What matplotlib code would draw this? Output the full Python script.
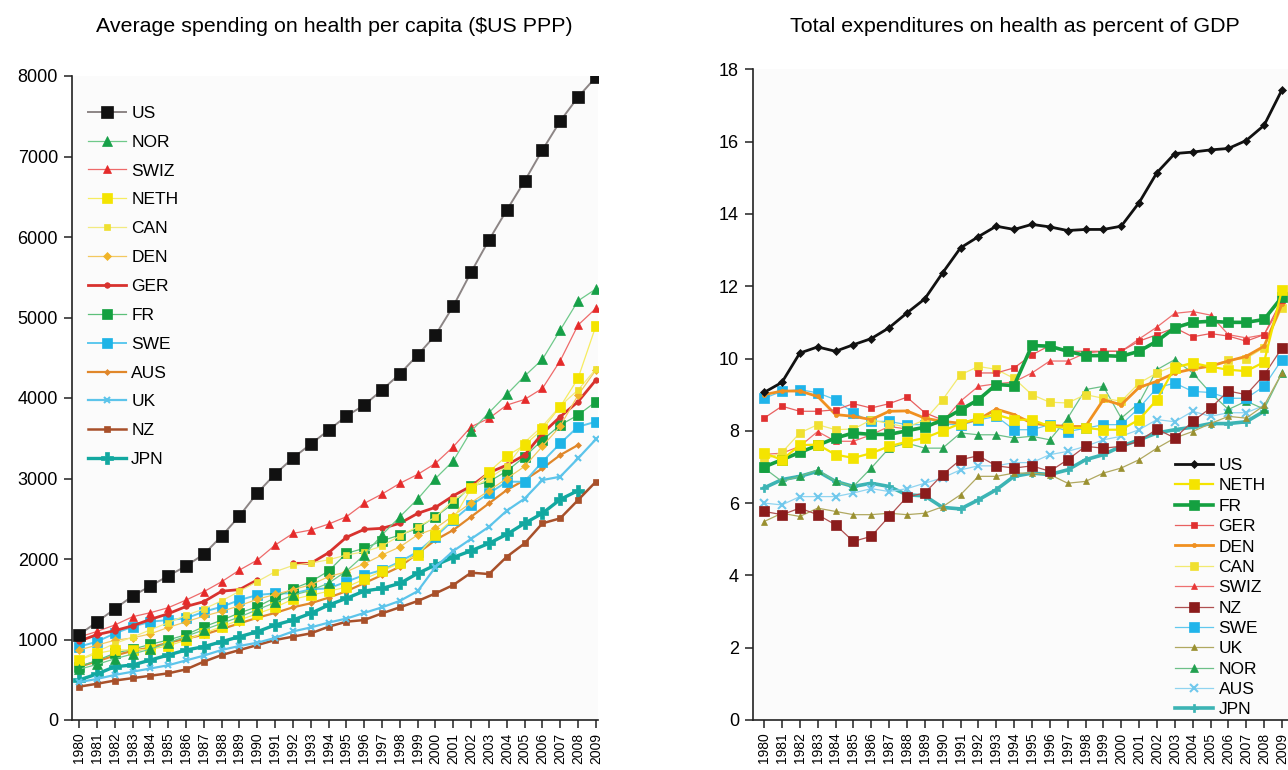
import numpy as np
import matplotlib
matplotlib.use("Agg")
import matplotlib.pyplot as plt

plt.rcParams['font.family'] = ['Liberation Sans', 'DejaVu Sans']

nan = np.nan
years = list(range(1980, 2010))
year_labels = [str(y) for y in years]

# ---- Left chart: spending per capita ($US PPP) ----
us_spend = [1060, 1217, 1380, 1540, 1665, 1790, 1913, 2060, 2285, 2535, 2820, 3055, 3254, 3428, 3600,
            3775, 3912, 4100, 4300, 4533, 4782, 5142, 5564, 5962, 6334, 6694, 7080, 7440, 7738, 7986]
nor_spend = [630, 690, 760, 820, 880, 960, 1040, 1120, 1200, 1280, 1370, 1460, 1550, 1610, 1700,
             1850, 2050, 2300, 2525, 2745, 3000, 3220, 3589, 3817, 4045, 4272, 4480, 4844, 5207, 5354]
swiz_spend = [1030, 1100, 1180, 1283, 1333, 1395, 1490, 1594, 1718, 1863, 1987, 2173, 2318, 2360, 2434,
              2525, 2691, 2807, 2940, 3051, 3188, 3395, 3643, 3747, 3912, 3982, 4119, 4463, 4906, 5113]
neth_spend = [745, 828, 870, 870, 880, 920, 994, 1080, 1159, 1242, 1320, 1400, 1500, 1550, 1600,
              1650, 1750, 1850, 1950, 2050, 2300, 2500, 2877, 3084, 3279, 3416, 3610, 3892, 4244, 4894]
can_spend = [750, 850, 950, 1030, 1120, 1210, 1300, 1380, 1480, 1600, 1720, 1842, 1920, 1950, 1990,
             2050, 2090, 2160, 2290, 2400, 2520, 2730, 2880, 3000, 3150, 3450, 3650, 3900, 4100, 4360]
den_spend = [870, 930, 990, 1020, 1070, 1150, 1220, 1290, 1350, 1420, 1500, 1560, 1620, 1680, 1780,
             1842, 1940, 2050, 2150, 2300, 2380, 2540, 2700, 2850, 3000, 3150, 3400, 3650, 4036, 4347]
ger_spend = [980, 1060, 1110, 1170, 1250, 1320, 1410, 1470, 1600, 1620, 1740, nan, 1946, 1946, 2078,
             2270, 2368, 2381, 2443, 2567, 2642, 2786, 2906, 3071, 3167, 3291, 3560, 3767, 3954, 4223]
fr_spend = [662, 740, 830, 880, 940, 994, 1060, 1159, 1240, 1330, 1407, 1520, 1630, 1718, 1850,
            2070, 2133, 2227, 2298, 2381, 2525, 2691, 2906, 2960, 3093, 3270, 3478, 3664, 3788, 3954]
swe_spend = [911, 973, 1076, 1159, 1221, 1242, 1263, 1345, 1407, 1490, 1553, 1573, 1573, 1623, 1635,
             1718, 1801, 1863, 1966, 2090, 2277, 2484, 2670, 2815, 2960, 2960, 3208, 3436, 3643, 3705]
aus_spend = [660, 730, 800, 860, 900, 960, 1010, 1060, 1130, 1200, 1270, 1330, 1400, 1450, 1520,
             1600, 1700, 1800, 1904, 2070, 2236, 2360, 2525, 2691, 2857, 2981, 3126, 3291, 3416, nan]
uk_spend = [470, 510, 560, 600, 640, 680, 740, 800, 870, 920, 960, 1020, 1100, 1150, 1210,
            1260, 1330, 1400, 1480, 1600, 1900, 2100, 2250, 2400, 2600, 2750, 2981, 3022, 3250, 3487]
nz_spend = [414, 450, 490, 520, 550, 580, 629, 725, 807, 869, 931, 994, 1035, 1076, 1159,
            1221, 1242, 1325, 1400, 1478, 1573, 1677, 1830, 1813, 2028, 2194, 2443, 2505, 2732, 2960]
jpn_spend = [497, 571, 662, 683, 745, 807, 869, 911, 973, 1035, 1097, 1180, 1242, 1325, 1428,
             1511, 1602, 1635, 1697, 1821, 1925, 2020, 2103, 2194, 2306, 2443, 2567, 2740, 2850, nan]

# ---- Right chart: total expenditure on health, % of GDP ----
us_gdp = [9.06, 9.34, 10.15, 10.32, 10.2, 10.38, 10.55, 10.85, 11.26, 11.65, 12.37, 13.06, 13.37, 13.66, 13.57,
          13.71, 13.64, 13.54, 13.57, 13.57, 13.66, 14.31, 15.14, 15.67, 15.71, 15.77, 15.81, 16.03, 16.45, 17.43]
neth_gdp = [7.38, 7.2, 7.6, 7.62, 7.34, 7.25, 7.38, 7.57, 7.7, 7.8, 8.0, 8.2, 8.35, 8.45, 8.3,
            8.31, 8.12, 8.08, 8.08, 8.03, 8.03, 8.31, 8.86, 9.75, 9.88, 9.77, 9.69, 9.65, 9.9, 11.9]
fr_gdp = [7.0, 7.2, 7.4, 7.6, 7.8, 7.94, 7.9, 7.9, 8.0, 8.1, 8.3, 8.58, 8.86, 9.28, 9.25,
          10.36, 10.34, 10.2, 10.08, 10.08, 10.06, 10.2, 10.48, 10.85, 11.0, 11.03, 11.0, 11.0, 11.08, 11.7]
ger_gdp = [8.35, 8.68, 8.54, 8.54, 8.58, 8.75, 8.63, 8.75, 8.93, 8.5, 8.3, nan, 9.6, 9.6, 9.74,
           10.1, 10.36, 10.2, 10.2, 10.2, 10.2, 10.48, 10.66, 10.85, 10.6, 10.69, 10.62, 10.48, 10.66, 11.63]
den_gdp = [9.0, 9.1, 9.1, 8.95, 8.45, 8.4, 8.31, 8.54, 8.55, 8.35, 8.26, 8.21, 8.31, 8.6, 8.45,
           8.21, 8.15, 8.12, 8.12, 8.86, 8.72, 9.2, 9.37, 9.6, 9.71, 9.79, 9.93, 10.06, 10.34, 11.5]
can_gdp = [7.2, 7.4, 7.94, 8.17, 8.03, 8.05, 8.3, 8.2, 8.1, 8.3, 8.86, 9.55, 9.78, 9.7, 9.45,
           9.0, 8.79, 8.77, 9.0, 8.9, 8.82, 9.32, 9.6, 9.8, 9.8, 9.8, 9.95, 10.0, 10.3, 11.4]
swiz_gdp = [7.35, 7.38, 7.57, 7.98, 7.71, 7.71, 7.89, 8.12, 8.05, 8.1, 8.25, 8.82, 9.23, 9.3, 9.35,
            9.6, 9.93, 9.93, 10.15, 10.2, 10.2, 10.54, 10.87, 11.25, 11.3, 11.2, 10.66, 10.57, 10.66, 11.5]
nz_gdp = [5.77, 5.68, 5.86, 5.68, 5.4, 4.94, 5.08, 5.63, 6.17, 6.28, 6.79, 7.2, 7.31, 7.03, 6.97,
          7.03, 6.88, 7.2, 7.57, 7.52, 7.57, 7.71, 8.05, 7.8, 8.26, 8.63, 9.1, 9.0, 9.54, 10.29]
swe_gdp = [8.9, 9.09, 9.14, 9.05, 8.86, 8.49, 8.26, 8.26, 8.17, 8.17, 8.2, 8.15, 8.3, 8.4, 8.03,
           8.03, 8.17, 7.98, 8.07, 8.17, 8.17, 8.63, 9.19, 9.32, 9.09, 9.06, 8.9, 8.9, 9.23, 9.97]
uk_gdp = [5.49, 5.72, 5.63, 5.86, 5.77, 5.68, 5.68, 5.72, 5.68, 5.72, 5.9, 6.23, 6.74, 6.74, 6.83,
          6.83, 6.79, 6.55, 6.6, 6.83, 6.97, 7.2, 7.52, 7.8, 7.98, 8.2, 8.4, 8.35, 8.7, 9.6]
nor_gdp = [6.97, 6.6, 6.74, 6.92, 6.6, 6.46, 6.97, 7.52, 7.66, 7.52, 7.52, 7.94, 7.89, 7.89, 7.8,
           7.85, 7.75, 8.35, 9.14, 9.23, 8.35, 8.77, 9.69, 9.97, 9.6, 9.05, 8.59, 8.82, 8.6, 9.6]
aus_gdp = [6.0, 5.95, 6.18, 6.18, 6.18, 6.28, 6.4, 6.32, 6.4, 6.55, 6.7, 6.92, 7.03, 7.03, 7.12,
           7.12, 7.34, 7.43, 7.57, 7.75, 7.85, 8.03, 8.31, 8.25, 8.54, 8.4, 8.5, 8.5, 8.7, nan]
jpn_gdp = [6.42, 6.65, 6.74, 6.88, 6.6, 6.46, 6.55, 6.46, 6.23, 6.2, 5.88, 5.84, 6.09, 6.37, 6.74,
           6.83, 6.79, 6.92, 7.2, 7.34, 7.57, 7.75, 7.94, 8.03, 8.1, 8.2, 8.2, 8.25, 8.54, nan]

left_ticks = [0, 1000, 2000, 3000, 4000, 5000, 6000, 7000, 8000]
right_ticks = [0, 2, 4, 6, 8, 10, 12, 14, 16, 18]

left_title = "Average spending on health per capita ($US PPP)"
right_title = "Total expenditures on health as percent of GDP"

# styles: (color, linecolor, marker, markersize, linewidth)
left_series = [
    ("US", us_spend, "#111111", "#8c8585", "s", 8, 1.4),
    ("NOR", nor_spend, "#16a048", "#6fc98a", "^", 6.5, 0.9),
    ("SWIZ", swiz_spend, "#e52a2a", "#ee6a6a", "^", 6, 0.9),
    ("NETH", neth_spend, "#f4e400", "#f6ec60", "s", 7.5, 0.9),
    ("CAN", can_spend, "#efe030", "#f2ea80", "s", 5, 0.9),
    ("DEN", den_spend, "#f0b428", "#f3c860", "D", 4, 0.9),
    ("GER", ger_spend, "#d8322e", "#d8322e", "o", 4, 2.0),
    ("FR", fr_spend, "#14a040", "#5cc07a", "s", 6.5, 0.9),
    ("SWE", swe_spend, "#1eb4e6", "#5cc8ee", "s", 6.5, 1.4),
    ("AUS", aus_spend, "#e0872a", "#e0872a", "D", 3, 1.6),
    ("UK", uk_spend, "#5cc4ea", "#5cc4ea", "x", 4, 1.6),
    ("NZ", nz_spend, "#a8502a", "#a8502a", "s", 4.5, 1.8),
    ("JPN", jpn_spend, "#12a8a0", "#12a8a0", "P", 8, 2.4),
]

right_series = [
    ("US", us_gdp, "#111111", "#111111", "D", 4, 2.0),
    ("NETH", neth_gdp, "#f4e400", "#f4e400", "s", 6.5, 1.6),
    ("FR", fr_gdp, "#14a040", "#14a040", "s", 6.5, 2.6),
    ("GER", ger_gdp, "#e03030", "#e86060", "s", 4.5, 0.9),
    ("DEN", den_gdp, "#f09020", "#f09020", "o", 3, 2.0),
    ("CAN", can_gdp, "#f0e030", "#f2ea70", "s", 5.5, 0.9),
    ("SWIZ", swiz_gdp, "#e83838", "#ee7070", "^", 4.5, 0.9),
    ("NZ", nz_gdp, "#8b1c1c", "#b05050", "s", 6.5, 0.9),
    ("SWE", swe_gdp, "#20b4ea", "#60c8ee", "s", 6.5, 0.9),
    ("UK", uk_gdp, "#9a9030", "#b0a860", "^", 5, 0.9),
    ("NOR", nor_gdp, "#22a050", "#6cc088", "^", 6, 0.9),
    ("AUS", aus_gdp, "#70c8ec", "#90d4f0", "x", 6, 0.9),
    ("JPN", jpn_gdp, "#3cb4b4", "#3cb4b4", "P", 5.5, 2.6),
]

fig = plt.figure(figsize=(12.88, 7.70), dpi=100)
W, H = 1288.0, 770.0
ax1 = fig.add_axes([72 / W, 50 / H, 526 / W, 644 / H])
ax2 = fig.add_axes([753 / W, 50 / H, 535 / W, 650.7 / H])


def draw(ax, series):
    handles = []
    n = len(series)
    for i, (name, vals, mc, lc, mk, ms, lw) in enumerate(series):
        z = 3 + (n - i) * 0.1
        kw = dict(color=lc, lw=lw, marker=mk, ms=ms, mfc=mc, mec=mc, label=name, zorder=z)
        kw["mew"] = 1.5 if mk == "x" else 0.5
        h, = ax.plot(years, vals, **kw)
        handles.append(h)
    return handles


def style_axes(ax, yticks, xlim, ylim):
    ax.set_facecolor("#fbfbfb")
    ax.set_xlim(*xlim)
    ax.set_ylim(*ylim)
    ax.set_xticks(years)
    ax.set_xticklabels(year_labels, rotation=90, fontsize=10)
    ax.set_yticks(yticks)
    ax.set_yticklabels([str(t) for t in yticks], fontsize=13)
    for s in ("top", "right"):
        ax.spines[s].set_visible(False)
    for s in ("left", "bottom"):
        ax.spines[s].set_linewidth(1.2)
        ax.spines[s].set_color("#222222")
    ax.tick_params(axis="both", direction="out", length=6, width=1.1, color="#222222")
    ax.tick_params(axis="y", pad=4)
    ax.tick_params(axis="x", pad=3)


h1 = draw(ax1, left_series)
h2 = draw(ax2, right_series)

style_axes(ax1, left_ticks, (1979.6, 2009.12), (0, 8000))
style_axes(ax2, right_ticks, (1979.38, 2009.34), (0, 18))

ax1.legend(handles=h1, loc="upper left", bbox_to_anchor=(0.03, 0.954), frameon=False,
           fontsize=12.5, handlelength=2.2, handletextpad=0.3, labelspacing=0.79,
           borderpad=0, borderaxespad=0)
ax2.legend(handles=h2, loc="lower left", bbox_to_anchor=(0.789, 0.004), frameon=False,
           fontsize=12.5, handlelength=2.2, handletextpad=0.3, labelspacing=0.30,
           borderpad=0, borderaxespad=0)

fig.text(334 / W, 1 - 27 / H, left_title, ha="center", va="center", fontsize=15.4)
fig.text(1015 / W, 1 - 27 / H, right_title, ha="center", va="center", fontsize=15.4)

fig.savefig("out.png", dpi=100)
